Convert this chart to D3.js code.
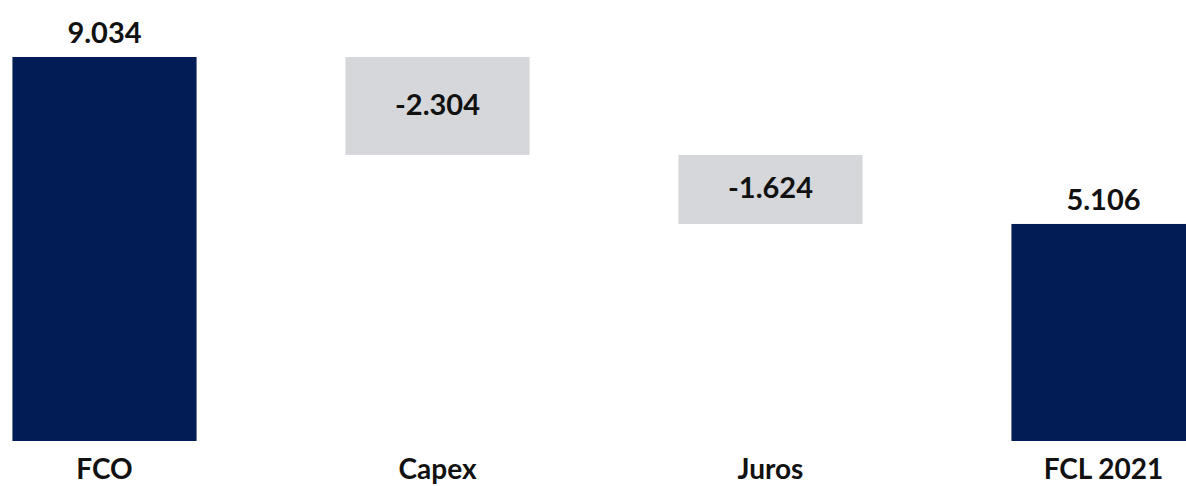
<!DOCTYPE html>
<html>
<head>
<meta charset="utf-8">
<script src="https://cdn.jsdelivr.net/npm/d3@7"></script>
<style>
  html, body { margin: 0; padding: 0; background: #fff; }
  svg { display: block; }
</style>
</head>
<body>
<div id="chart"></div>
<script>
const categories = ["FCO", "Capex", "Juros", "FCL 2021"];
const values = [9.034, -2.304, -1.624, 5.106];
const kinds = ["total", "delta", "delta", "total"];
const valueLabels = ["9.034", "-2.304", "-1.624", "5.106"];

const width = 1186;
const height = 486;

const svg = d3.select("#chart")
  .append("svg")
  .attr("width", width)
  .attr("height", height);

// running sum for the floating boxes
let running = 0;
const rows = categories.map((c, i) => {
  let y0, y1;
  if (kinds[i] === "total") {
    y0 = 0;
    y1 = values[i];
    running = values[i];
  } else {
    y0 = running + values[i];
    y1 = running;
    running = y0;
  }
  return { cat: c, kind: kinds[i], y0: y0, y1: y1, label: valueLabels[i] };
});

const x = d3.scaleBand()
  .domain(categories)
  .range([-62, 1270])
  .paddingInner(0.447)
  .paddingOuter(0.2235);

const y = d3.scaleLinear()
  .domain([0, 9.034])
  .range([441, 57]);

svg.selectAll("rect.bar")
  .data(rows)
  .enter().append("rect")
  .attr("class", "bar")
  .attr("x", d => x(d.cat))
  .attr("width", x.bandwidth())
  .attr("y", d => y(d.y1))
  .attr("height", d => y(d.y0) - y(d.y1))
  .attr("fill", d => d.kind === "total" ? "#021c55" : "#d5d7da");

svg.selectAll("text.val")
  .data(rows)
  .enter().append("text")
  .attr("class", "val")
  .attr("x", d => x(d.cat) + x.bandwidth() / 2)
  .attr("y", d => d.kind === "total" ? y(d.y1) - 14 : (y(d.y0) + y(d.y1)) / 2 + 9)
  .attr("text-anchor", "middle")
  .style("font-family", "Lato, 'Open Sans', sans-serif")
  .style("font-weight", "bold")
  .style("font-size", "29px")
  .style("fill", "#111")
  .text(d => d.label);

svg.selectAll("text.cat")
  .data(rows)
  .enter().append("text")
  .attr("class", "cat")
  .attr("x", d => x(d.cat) + x.bandwidth() / 2)
  .attr("y", 479)
  .attr("text-anchor", "middle")
  .style("font-family", "Lato, 'Open Sans', sans-serif")
  .style("font-weight", "bold")
  .style("font-size", "28px")
  .style("fill", "#111")
  .text(d => d.cat);
</script>
</body>
</html>
